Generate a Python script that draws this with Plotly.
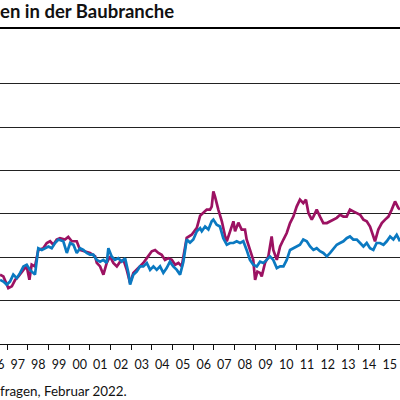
import plotly.graph_objects as go

# Baubranche, monthly readings (decimal year, value)
years_magenta = [1996.65, 1996.81, 1997.05, 1997.22, 1997.38, 1997.54, 1997.78, 1997.94, 1998.07, 1998.18,
                 1998.34, 1998.50, 1998.74, 1998.91, 1999.07, 1999.23, 1999.39, 1999.55, 1999.79, 1999.95,
                 2000.12, 2000.36, 2000.52, 2000.76, 2001.00, 2001.25, 2001.33, 2001.49, 2001.65, 2001.81,
                 2001.97, 2002.13, 2002.30, 2002.46, 2002.62, 2002.78, 2002.94, 2003.10, 2003.26, 2003.42,
                 2003.58, 2003.75, 2003.99, 2004.15, 2004.31, 2004.47, 2004.63, 2004.79, 2004.96, 2005.12,
                 2005.28, 2005.44, 2005.52, 2005.68, 2005.92, 2006.17, 2006.33, 2006.49, 2006.65, 2006.81,
                 2006.89, 2006.97, 2007.05, 2007.21, 2007.38, 2007.54, 2007.62, 2007.78, 2007.94, 2008.02,
                 2008.18, 2008.34, 2008.50, 2008.58, 2008.74, 2008.90, 2008.99, 2009.10, 2009.23, 2009.31,
                 2009.47, 2009.63, 2009.79, 2009.87, 2010.04, 2010.20, 2010.36, 2010.52, 2010.68, 2010.84,
                 2011.00, 2011.16, 2011.32, 2011.45, 2011.57, 2011.73, 2011.81, 2011.97, 2012.13, 2012.29,
                 2012.46, 2012.62, 2012.78, 2012.94, 2013.10, 2013.26, 2013.42, 2013.58, 2013.74, 2013.91,
                 2014.07, 2014.23, 2014.39, 2014.55, 2014.71, 2014.79, 2014.95, 2015.12, 2015.28, 2015.44,
                 2015.60, 2015.76, 2015.92, 2016.00]
magenta = [16.0, 15.6, 12.9, 13.3, 14.8, 15.6, 17.1, 17.9, 14.8, 18.3,
           17.9, 21.7, 22.1, 23.3, 23.7, 22.9, 24.1, 24.4, 24.1, 24.7,
           23.7, 23.7, 21.7, 21.4, 21.0, 20.2, 18.7, 17.9, 16.0, 18.7,
           20.2, 18.7, 17.9, 19.0, 19.4, 17.1, 14.1, 16.4, 17.1, 17.9,
           18.7, 19.8, 21.4, 21.7, 21.0, 20.6, 19.4, 19.8, 19.4, 18.3,
           18.7, 17.9, 19.9, 24.5, 25.2, 26.8, 29.6, 30.3, 31.0, 31.0,
           31.7, 35.2, 34.0, 31.0, 28.3, 24.8, 23.7, 26.0, 28.3, 26.0,
           28.0, 26.4, 26.4, 24.1, 21.7, 19.4, 14.8, 16.7, 16.4, 15.6,
           18.7, 20.2, 24.8, 21.7, 19.4, 22.5, 24.1, 25.6, 27.9, 29.4,
           31.7, 33.3, 32.5, 33.3, 30.2, 28.7, 29.4, 31.0, 29.4, 27.9,
           27.9, 28.3, 28.7, 29.1, 29.8, 29.4, 29.4, 31.0, 30.6, 30.2,
           29.8, 28.7, 28.3, 27.1, 24.8, 23.7, 26.4, 27.9, 28.7, 29.4,
           31.0, 32.9, 31.4, 31.0]

years_blue = [1996.65, 1996.81, 1996.97, 1997.13, 1997.29, 1997.46, 1997.62, 1997.78, 1997.94, 1998.10,
              1998.34, 1998.50, 1998.67, 1998.83, 1998.99, 1999.15, 1999.31, 1999.47, 1999.71, 1999.88,
              2000.04, 2000.20, 2000.36, 2000.52, 2000.68, 2000.84, 2001.00, 2001.16, 2001.33, 2001.49,
              2001.65, 2001.81, 2001.89, 2002.05, 2002.21, 2002.37, 2002.54, 2002.70, 2002.86, 2002.94,
              2003.10, 2003.26, 2003.42, 2003.58, 2003.75, 2003.91, 2004.07, 2004.23, 2004.39, 2004.55,
              2004.71, 2004.87, 2005.03, 2005.20, 2005.36, 2005.52, 2005.68, 2005.84, 2006.00, 2006.17,
              2006.33, 2006.41, 2006.57, 2006.73, 2006.89, 2006.97, 2007.13, 2007.29, 2007.45, 2007.62,
              2007.78, 2007.94, 2008.10, 2008.26, 2008.42, 2008.58, 2008.74, 2008.90, 2009.07, 2009.23,
              2009.39, 2009.55, 2009.71, 2009.87, 2010.04, 2010.20, 2010.36, 2010.52, 2010.68, 2010.84,
              2011.00, 2011.16, 2011.32, 2011.49, 2011.65, 2011.81, 2011.97, 2012.13, 2012.29, 2012.46,
              2012.62, 2012.78, 2012.94, 2013.10, 2013.26, 2013.42, 2013.58, 2013.74, 2013.91, 2014.07,
              2014.23, 2014.39, 2014.55, 2014.71, 2014.87, 2015.03, 2015.20, 2015.36, 2015.52, 2015.68,
              2015.84, 2016.00]
blue = [14.8, 14.4, 13.7, 14.4, 16.0, 15.2, 16.4, 17.9, 18.3, 17.1,
        16.0, 22.1, 21.7, 22.1, 22.5, 22.1, 23.3, 24.1, 23.7, 21.0,
        23.3, 22.9, 21.0, 22.1, 21.7, 21.0, 20.6, 20.6, 19.4, 19.0,
        19.4, 18.7, 22.1, 20.2, 19.4, 19.8, 19.0, 19.8, 16.4, 13.7,
        16.0, 16.7, 17.9, 17.9, 18.7, 17.1, 17.9, 17.1, 17.9, 16.4,
        17.5, 19.0, 17.9, 17.1, 16.0, 19.0, 24.1, 23.4, 24.1, 26.0,
        26.7, 26.0, 27.1, 26.4, 28.3, 28.7, 27.5, 27.1, 24.4, 22.9,
        23.3, 23.3, 23.7, 23.3, 23.7, 21.7, 19.4, 18.3, 17.9, 19.0,
        18.7, 19.4, 20.2, 19.4, 17.5, 17.9, 17.9, 19.4, 21.7, 22.1,
        22.5, 22.9, 24.1, 23.7, 22.5, 21.7, 22.1, 21.4, 21.0, 20.2,
        21.0, 22.1, 22.9, 23.3, 23.7, 24.4, 24.8, 24.1, 24.1, 23.3,
        22.5, 23.3, 22.1, 21.7, 23.3, 23.3, 22.9, 23.7, 24.8, 24.1,
        25.2, 23.7]

year_labels = ["97", "98", "99", "00", "01", "02", "03", "04", "05", "06",
               "07", "08", "09", "10", "11", "12", "13", "14", "15"]
label_pos = [1997.5 + i for i in range(len(year_labels))]

font = "Lato, 'Open Sans', sans-serif"

fig = go.Figure()
fig.add_trace(go.Scatter(x=years_magenta, y=magenta, mode="lines",
                         line=dict(color="#9c1262", width=2.7)))
fig.add_trace(go.Scatter(x=years_blue, y=blue, mode="lines",
                         line=dict(color="#0b79c1", width=2.7)))

fig.update_layout(
    width=400, height=400,
    margin=dict(l=0, r=0, t=28, b=56),
    paper_bgcolor="white", plot_bgcolor="white",
    showlegend=False,
    font=dict(family=font, color="#111"),
    xaxis=dict(range=[1996.647, 2016.0], showgrid=False, zeroline=False,
               showline=True, linecolor="#111", linewidth=1,
               tickmode="array", tickvals=label_pos, ticktext=year_labels,
               ticks="outside", ticklen=0, ticklabelstandoff=9,
               tickfont=dict(size=12.5, color="#111"),
               minor=dict(tickmode="linear", tick0=1997, dtick=1, ticks="outside",
                          ticklen=5, tickcolor="#111", tickwidth=1, showgrid=False)),
    yaxis=dict(range=[0, 72.9], showticklabels=False, zeroline=False,
               tickmode="array", tickvals=[10, 20, 30, 40, 50, 60],
               showgrid=True, gridcolor="#222", gridwidth=1),
)

# thick rule under the title
fig.add_shape(type="line", xref="paper", yref="paper", x0=0, x1=1, y0=1, y1=1,
              line=dict(color="black", width=2.2))

fig.add_annotation(text="<b>en in der Baubranche</b>", xref="paper", yref="paper",
                   x=0, y=1.053, xanchor="left", yanchor="middle", xshift=-2,
                   showarrow=False, font=dict(size=18.5, color="#111"))
fig.add_annotation(text="96", xref="paper", yref="paper", x=-0.0075, y=-0.066,
                   xanchor="center", yanchor="middle", showarrow=False,
                   font=dict(size=12.5, color="#111"))
fig.add_annotation(text="fragen, Februar 2022.", xref="paper", yref="paper",
                   x=0, y=-0.149, xanchor="left", yanchor="middle", xshift=-2,
                   showarrow=False, font=dict(size=13.4, color="#111"))

# page body has a default 8px margin; drop it so the figure sits at the corner
fig.write_html("out.html", config={"displayModeBar": False},
               post_script="document.body.style.margin='0';")
